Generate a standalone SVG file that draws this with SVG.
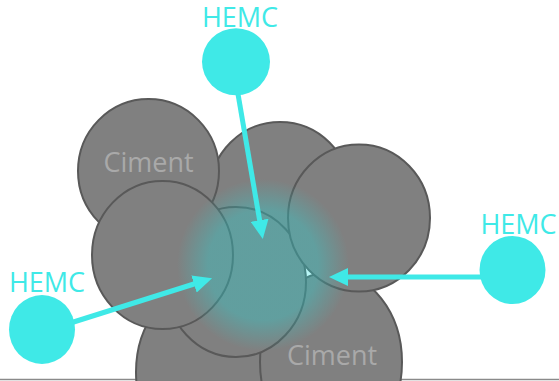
<svg xmlns="http://www.w3.org/2000/svg" width="559" height="381" viewBox="0 0 559 381">
<style>
.cim{fill:#808080;stroke:#595959;stroke-width:2}
.lbl{font-family:"Open Sans","Liberation Sans",sans-serif;font-size:27px;text-anchor:middle}
.cl{fill:#a9a9a9}
.hl{fill:#3fe9e7}
.hc{fill:#3fe9e7}
.arr{stroke:#3fe9e7;stroke-width:5;fill:none;marker-end:url(#ah)}
</style>
<defs>
<marker id="ah" markerUnits="userSpaceOnUse" markerWidth="20" markerHeight="18" viewBox="0 0 20 18" refX="10" refY="9" orient="auto">
<path d="M0,0 L19,9 L0,18 z" fill="#3fe9e7"/>
</marker>
<radialGradient id="glow" cx="263" cy="265" r="86" gradientUnits="userSpaceOnUse">
<stop offset="0" stop-color="#20e0e0" stop-opacity="0.32"/>
<stop offset="0.64" stop-color="#20e0e0" stop-opacity="0.32"/>
<stop offset="1" stop-color="#20e0e0" stop-opacity="0"/>
</radialGradient>
</defs>
<rect width="559" height="381" fill="#ffffff"/>
<line x1="0" y1="379.5" x2="559" y2="379.5" stroke="#8a8a8a" stroke-width="1.5"/>
<g id="ciment-top-middle"><circle class="cim" cx="280" cy="192" r="70"/></g>
<g id="ciment-bottom-left"><ellipse class="cim" cx="206" cy="372" rx="70" ry="88"/></g>
<g id="ciment-bottom-right"><ellipse class="cim" cx="331" cy="362" rx="71" ry="90"/><text class="lbl cl" x="332" y="365">Ciment</text></g>
<g id="ciment-top-left"><ellipse class="cim" cx="148.5" cy="171" rx="70.5" ry="72"/><text class="lbl cl" x="148.5" y="172">Ciment</text></g>
<g id="ciment-center"><ellipse class="cim" cx="236" cy="282" rx="70" ry="75"/></g>
<g id="ciment-right"><ellipse class="cim" cx="359" cy="218" rx="71" ry="73.5"/></g>
<g id="ciment-left-middle"><ellipse class="cim" cx="162.5" cy="255" rx="70.5" ry="74"/></g>
<g id="glow-zone"><circle cx="263" cy="265" r="86" fill="url(#glow)"/></g>
<g id="connectors">
<line class="arr" x1="238" y1="94" x2="261.3" y2="230.1"/>
<line class="arr" x1="481" y1="277" x2="338" y2="277"/>
<line class="arr" x1="72" y1="322.5" x2="203.5" y2="281"/>
</g>
<g id="hemc-top"><ellipse class="hc" cx="236" cy="61.7" rx="34" ry="33.5"/><text class="lbl hl" x="240" y="26.5">HEMC</text></g>
<g id="hemc-right"><ellipse class="hc" cx="512.5" cy="270" rx="33" ry="34"/><text class="lbl hl" x="518.5" y="234">HEMC</text></g>
<g id="hemc-left"><ellipse class="hc" cx="42" cy="329.5" rx="33" ry="34.5"/><text class="lbl hl" x="47" y="291.7">HEMC</text></g>
</svg>
